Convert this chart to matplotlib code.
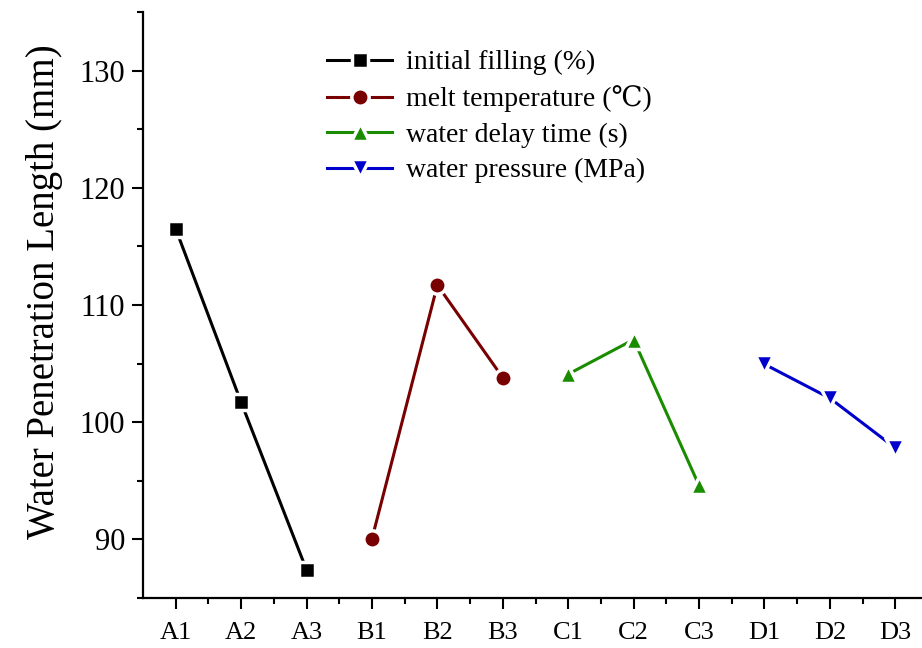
import numpy as np
import matplotlib
matplotlib.use('Agg')
import matplotlib.pyplot as plt
from matplotlib.ticker import MultipleLocator, FixedLocator

plt.rcParams['font.family'] = ['Liberation Serif', 'DejaVu Serif']

# level labels on the x axis
levels = ['A1', 'A2', 'A3', 'B1', 'B2', 'B3', 'C1', 'C2', 'C3', 'D1', 'D2', 'D3']

# mean water penetration length per factor level (mm)
initial_filling = [116.5, 101.7, 87.4]
melt_temp = [90.05, 111.7, 103.8]
delay_time = [104.1, 107.05, 94.6]
water_pressure = [104.95, 102.05, 97.8]

series = [
    ('initial filling (%)', initial_filling, 's', 'black', 11.5),
    ('melt temperature (\u2103)', melt_temp, 'o', '#780000', 12.5),
    ('water delay time (s)', delay_time, '^', '#1a8c00', 13.5),
    ('water pressure (MPa)', water_pressure, 'v', '#0000cc', 13.5),
]

fig = plt.figure(figsize=(9.22, 6.48), dpi=100)
ax = fig.add_axes([143/922, 50/648, 785/922, 586/648])

x_all = np.arange(len(levels))
for i, (name, vals, mk, col, ms) in enumerate(series):
    xs = x_all[i*3:(i+1)*3]
    ax.plot(xs, vals, color=col, lw=2.2, marker=mk, ms=ms,
            mfc=col, mec='white', mew=2.5, label=name)

ax.set_xlim(-0.5, 11.5)
ax.set_ylim(85, 135)

ax.xaxis.set_major_locator(FixedLocator(x_all))
ax.xaxis.set_minor_locator(FixedLocator(x_all[:-1] + 0.5))
ax.set_xticklabels(levels, fontsize=19)
ax.yaxis.set_major_locator(FixedLocator([90, 100, 110, 120, 130]))
ax.yaxis.set_minor_locator(MultipleLocator(5))
ax.tick_params(axis='y', labelsize=22)

ax.tick_params(which='major', direction='out', length=8, width=1.5, pad=5)
ax.tick_params(axis='x', which='major', pad=9)
ax.tick_params(which='minor', direction='out', length=4, width=1.5)

for s in ['top', 'right']:
    ax.spines[s].set_visible(False)
for s in ['left', 'bottom']:
    ax.spines[s].set_linewidth(1.6)

ax.set_ylabel('Water Penetration Length (mm)', fontsize=28)
ax.yaxis.set_label_coords(-0.102, 0.522)

leg = ax.legend(loc='upper left', bbox_to_anchor=(327/922, 1 - 50/648),
                bbox_transform=fig.transFigure, frameon=False, fontsize=20,
                handlelength=2.35, handletextpad=0.5, labelspacing=0.36,
                borderpad=0, borderaxespad=0)

fig.savefig('out.png', dpi=100)
